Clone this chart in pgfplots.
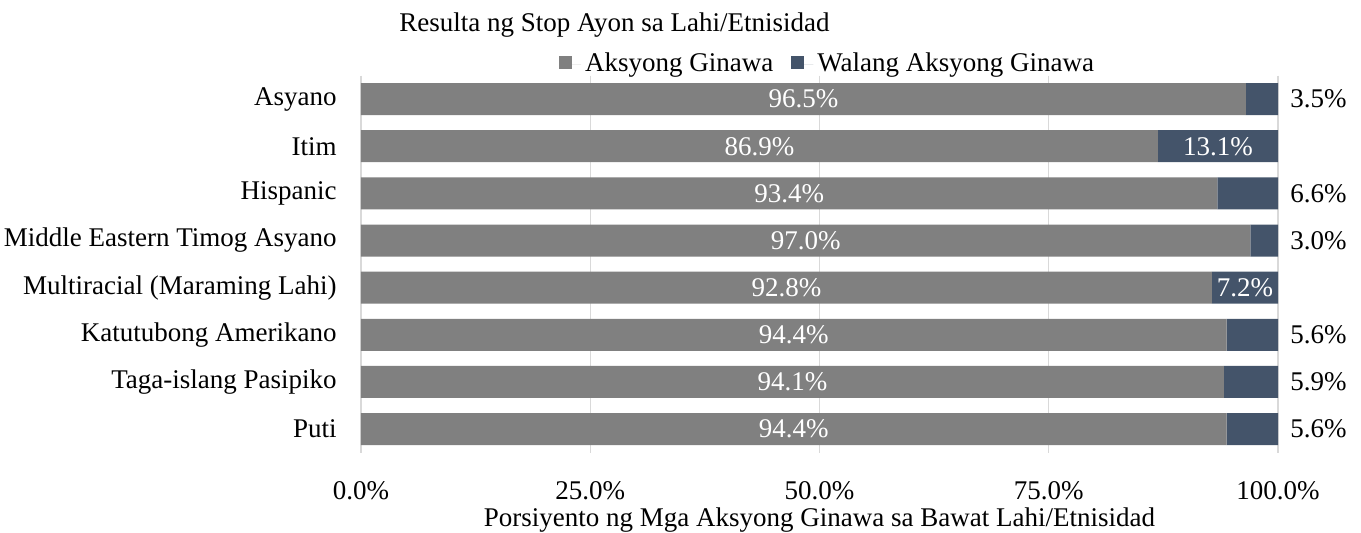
\documentclass[border=0pt]{standalone}
\usepackage{pgfplots}
\pgfplotsset{compat=1.18}
\usepackage{pgfplotstable}
\usepackage{fontspec}
\setmainfont{Liberation Serif}

\definecolor{barGrey}{HTML}{808080}
\definecolor{barBlue}{HTML}{44546A}
\definecolor{gridGrey}{HTML}{D9D9D9}

% idx 0 = top row
\pgfplotstableread{
idx a b
0 96.5 3.5
1 86.9 13.1
2 93.4 6.6
3 97.0 3.0
4 92.8 7.2
5 94.4 5.6
6 94.1 5.9
7 94.4 5.6
}\racedata

\pgfplotstableread{
idx b
1 13.1
4 7.2
}\blueinside

\pgfplotstableread{
idx b
0 3.5
2 6.6
3 3.0
5 5.6
6 5.9
7 5.6
}\blueoutside

\newcommand{\lblfont}{\fontsize{13.5}{16}\selectfont}

\begin{document}
\lblfont
\begin{tikzpicture}
\pgfplotsset{
  /pgf/number format/assume math mode=true,
  base/.style={
    width=458.5pt, height=188.6pt, scale only axis,
    xmin=0, xmax=100, ymin=-0.5, ymax=7.5,
    y dir=reverse,
  },
}
\begin{axis}[
  base, name=ax,
  xbar stacked, bar width=16pt,
  xtick={0,25,50,75,100},
  xticklabel={\pgfmathprintnumber[fixed,fixed zerofill,precision=1]{\tick}\%},
  ytick={0,...,7},
  yticklabels={Asyano,Itim,Hispanic,Middle Eastern Timog Asyano,Multiracial (Maraming Lahi),Katutubong Amerikano,Taga-islang Pasipiko,Puti},
  ticklabel style={font=\lblfont, inner sep=0pt},
  xticklabel style={anchor=base, yshift=-23.5pt},
  yticklabel style={xshift=-12pt},
  xmajorgrids, major grid style={gridGrey, line width=0.6pt},
  axis line style={draw=none}, tick style={draw=none},
  xlabel={Porsiyento ng Mga Aksyong Ginawa sa Bawat Lahi/Etnisidad},
  xlabel style={at={(axis description cs:0.5,0)}, anchor=base, yshift=-37pt, font=\lblfont, inner sep=0pt},
  legend columns=2,
  legend style={draw=none, fill=none, at={(0.51,1.03)}, anchor=center,
    font=\lblfont,
    /tikz/every even column/.append style={column sep=7pt}},
  legend image code/.code={\fill[#1] (0pt,-2.5pt) rectangle (6.5pt,4pt); \path (0pt,0pt) -- (11pt,0pt);},
]
\addplot[fill=barGrey, draw=none] table[x=a, y=idx] {\racedata};
\addlegendentry{Aksyong Ginawa}
\addplot[fill=barBlue, draw=none] table[x=b, y=idx] {\racedata};
\addlegendentry{Walang Aksyong Ginawa}
\end{axis}

\begin{axis}[
  base, hide axis, at={(ax.south west)}, anchor=south west, clip=false,
  point meta=explicit,
  nodes near coords={\pgfmathprintnumber[fixed,fixed zerofill,precision=1]{\pgfplotspointmeta}\%},
]
\addplot[draw=none, nodes near coords align={center},
  every node near coord/.append style={anchor=center, text=white, font=\lblfont}]
  table[x expr=\thisrow{a}/2, y=idx, meta=a] {\racedata};
\addplot[draw=none, nodes near coords align={center},
  every node near coord/.append style={anchor=center, text=white, font=\lblfont}]
  table[x expr=100-\thisrow{b}/2, y=idx, meta=b] {\blueinside};
\addplot[draw=none, nodes near coords align={center},
  every node near coord/.append style={anchor=west, xshift=1.5pt, text=black, font=\lblfont}]
  table[x expr=100, y=idx, meta=b] {\blueoutside};
\end{axis}

\node[anchor=base west, font=\lblfont, inner sep=0pt] at ([xshift=19pt, yshift=210.8pt]ax.south west) {Resulta ng Stop Ayon sa Lahi/Etnisidad};
\path ([xshift=-180.5pt, yshift=-39.15pt]ax.south west) rectangle ++(680.5pt,265.5pt);
\end{tikzpicture}
\end{document}
